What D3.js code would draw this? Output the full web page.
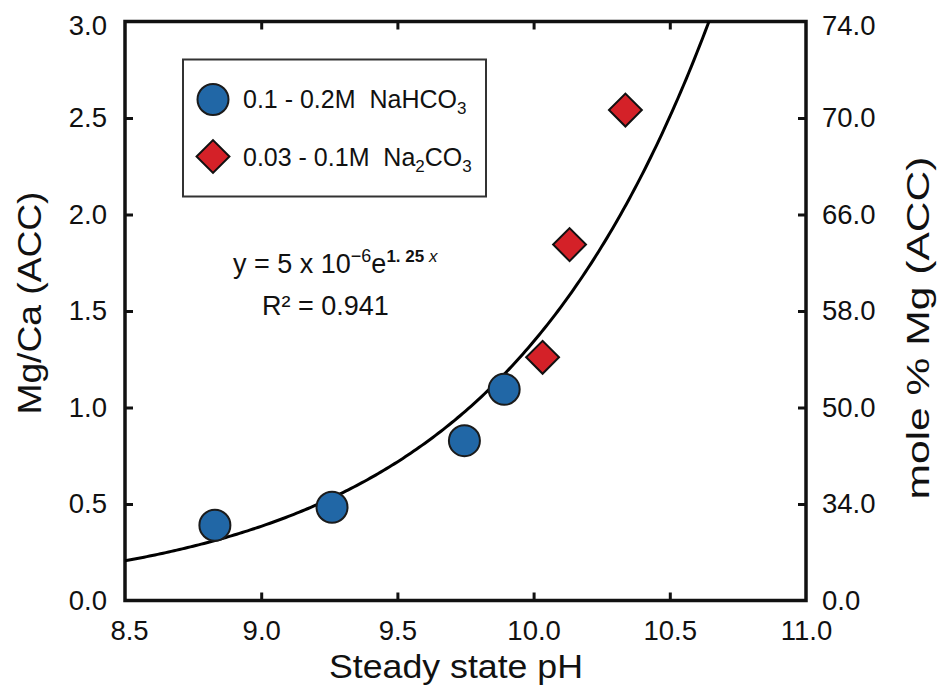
<!DOCTYPE html>
<html lang="en">
<head>
<meta charset="UTF-8">
<title>Mg/Ca vs steady state pH</title>
<script src="https://cdn.jsdelivr.net/npm/d3@7"></script>
<style>
  * { margin: 0; padding: 0; }
  body { background: #fff; }
  svg text { font-family: "Liberation Sans", Arial, sans-serif; fill: #111; white-space: pre; }
</style>
</head>
<body>
<div id="chart"></div>
<script>
// data
const bicarbPH = [8.83, 9.26, 9.746, 9.892];
const bicarbMgCa = [0.39, 0.483, 0.828, 1.094];
const carbPH = [10.033, 10.132, 10.337];
const carbMgCa = [1.26, 1.844, 2.541];
const seriesNames = ["0.1 - 0.2M  NaHCO", "0.03 - 0.1M  Na"];

// fit: y = a * e^(b x)
const fitA = 5e-6;
const fitB = 1.25;
const fitR2 = "0.941";

const xTicks = [8.5, 9.0, 9.5, 10.0, 10.5, 11.0];
const yTicks = [0, 0.5, 1.0, 1.5, 2.0, 2.5, 3.0];
const rightLabels = ["0.0", "34.0", "50.0", "58.0", "66.0", "70.0", "74.0"];

const width = 937, height = 687;
const margin = { top: 21.5, right: 131, bottom: 86.5, left: 125 };
const plotW = width - margin.left - margin.right;
const plotH = height - margin.top - margin.bottom;

const svg = d3.select("#chart").append("svg")
  .attr("width", width)
  .attr("height", height);

const x = d3.scaleLinear().domain([8.5, 11]).range([margin.left, margin.left + plotW]);
const y = d3.scaleLinear().domain([0, 3]).range([margin.top + plotH, margin.top]);

svg.append("clipPath").attr("id", "plot-clip")
  .append("rect")
  .attr("x", margin.left).attr("y", margin.top)
  .attr("width", plotW).attr("height", plotH);

// axes, ticks pointing inward
const fmt = d3.format(".1f");
const tickLen = 8;

const bottomG = svg.append("g")
  .attr("transform", `translate(0,${margin.top + plotH})`)
  .call(d3.axisBottom(x).tickValues(xTicks).tickFormat(fmt).tickSize(-tickLen).tickSizeOuter(0).tickPadding(20));

const topG = svg.append("g")
  .attr("transform", `translate(0,${margin.top})`)
  .call(d3.axisTop(x).tickValues(xTicks.slice(1, -1)).tickFormat("").tickSize(-tickLen).tickSizeOuter(0));

const leftG = svg.append("g")
  .attr("transform", `translate(${margin.left},0)`)
  .call(d3.axisLeft(y).tickValues(yTicks).tickFormat(fmt).tickSize(-tickLen).tickSizeOuter(0).tickPadding(18));

const rightG = svg.append("g")
  .attr("transform", `translate(${margin.left + plotW},0)`)
  .call(d3.axisRight(y).tickValues(yTicks).tickFormat((d, i) => rightLabels[i]).tickSize(-tickLen).tickSizeOuter(0).tickPadding(16));

[bottomG, topG, leftG, rightG].forEach(g => {
  g.select(".domain").remove();
  g.selectAll("line").attr("stroke", "#111").attr("stroke-width", 3);
  g.selectAll("text").attr("font-size", "27.5px").attr("fill", "#111");
});
// the end ticks sit on the frame
leftG.selectAll(".tick").filter(d => d === 0 || d === 3).select("line").remove();
rightG.selectAll(".tick").filter(d => d === 0 || d === 3).select("line").remove();
bottomG.selectAll(".tick").filter(d => d === 8.5 || d === 11).select("line").remove();
// end labels nudged off the corners
leftG.selectAll(".tick").filter(d => d === 3).select("text").attr("y", 4);
rightG.selectAll(".tick").filter(d => d === 3).select("text").attr("y", 4);
bottomG.selectAll(".tick").filter(d => d === 8.5).select("text").attr("x", 4);

// frame
svg.append("rect")
  .attr("x", margin.left).attr("y", margin.top)
  .attr("width", plotW).attr("height", plotH)
  .attr("fill", "none").attr("stroke", "#111").attr("stroke-width", 3.5);

// fit curve
const curvePts = d3.range(8.5, 11.0001, 0.01).map(p => [p, fitA * Math.exp(fitB * p)]);
svg.append("path")
  .datum(curvePts)
  .attr("clip-path", "url(#plot-clip)")
  .attr("fill", "none")
  .attr("stroke", "#000")
  .attr("stroke-width", 3)
  .attr("d", d3.line().x(d => x(d[0])).y(d => y(Math.min(d[1], 4))));

// points
const blue = "#2167a6", red = "#d42128";
const diamond = d3.symbol().type(d3.symbolSquare).size(540);

svg.append("g").selectAll("circle")
  .data(bicarbPH.map((p, i) => [p, bicarbMgCa[i]]))
  .join("circle")
  .attr("cx", d => x(d[0])).attr("cy", d => y(d[1]))
  .attr("r", 15.5)
  .attr("fill", blue).attr("stroke", "#1b1b1b").attr("stroke-width", 2);

svg.append("g").selectAll("path")
  .data(carbPH.map((p, i) => [p, carbMgCa[i]]))
  .join("path")
  .attr("d", diamond)
  .attr("transform", d => `translate(${x(d[0])},${y(d[1])}) rotate(45)`)
  .attr("fill", red).attr("stroke", "#111").attr("stroke-width", 2);

// axis titles
svg.append("text")
  .attr("x", 456).attr("y", 678)
  .attr("text-anchor", "middle")
  .attr("font-size", "33px")
  .attr("textLength", 254).attr("lengthAdjust", "spacingAndGlyphs")
  .text("Steady state pH");

svg.append("text")
  .attr("transform", "translate(41,303) rotate(-90)")
  .attr("text-anchor", "middle")
  .attr("font-size", "33px")
  .attr("textLength", 223).attr("lengthAdjust", "spacingAndGlyphs")
  .text("Mg/Ca (ACC)");

svg.append("text")
  .attr("transform", "translate(929,328) rotate(-90)")
  .attr("text-anchor", "middle")
  .attr("font-size", "31px")
  .attr("textLength", 343).attr("lengthAdjust", "spacingAndGlyphs")
  .text("mole % Mg (ACC)");

// legend
const legend = svg.append("g");
legend.append("rect")
  .attr("x", 183).attr("y", 59.5)
  .attr("width", 303).attr("height", 137)
  .attr("fill", "#fff").attr("stroke", "#333").attr("stroke-width", 2);

legend.append("circle")
  .attr("cx", 213).attr("cy", 99.5).attr("r", 15.5)
  .attr("fill", blue).attr("stroke", "#1b1b1b").attr("stroke-width", 2);
legend.append("path")
  .attr("d", diamond)
  .attr("transform", "translate(213,156.5) rotate(45)")
  .attr("fill", red).attr("stroke", "#111").attr("stroke-width", 2);

const t1 = legend.append("text").attr("x", 243).attr("y", 108).attr("font-size", "25px");
t1.append("tspan").text(seriesNames[0]);
t1.append("tspan").attr("font-size", "17px").attr("dy", 6).text("3");

const t2 = legend.append("text").attr("x", 243).attr("y", 166).attr("font-size", "25px");
t2.append("tspan").text(seriesNames[1]);
t2.append("tspan").attr("font-size", "17px").attr("dy", 6).text("2");
t2.append("tspan").attr("dy", -6).text("CO");
t2.append("tspan").attr("font-size", "17px").attr("dy", 6).text("3");

// equation
const eq = svg.append("text").attr("x", 233).attr("y", 273).attr("font-size", "27px");
eq.append("tspan").text("y = 5 x 10");
eq.append("tspan").attr("font-size", "18px").attr("dy", -11).text("\u22126");
eq.append("tspan").attr("dy", 11).text("e");
eq.append("tspan").attr("font-size", "17px").attr("font-weight", "bold").attr("dy", -11).text("1. 25");
eq.append("tspan").attr("font-size", "17px").attr("font-style", "italic").text(" x");

svg.append("text")
  .attr("x", 262).attr("y", 315).attr("font-size", "27px")
  .text(`R\u00b2 = ${fitR2}`);
</script>
</body>
</html>
